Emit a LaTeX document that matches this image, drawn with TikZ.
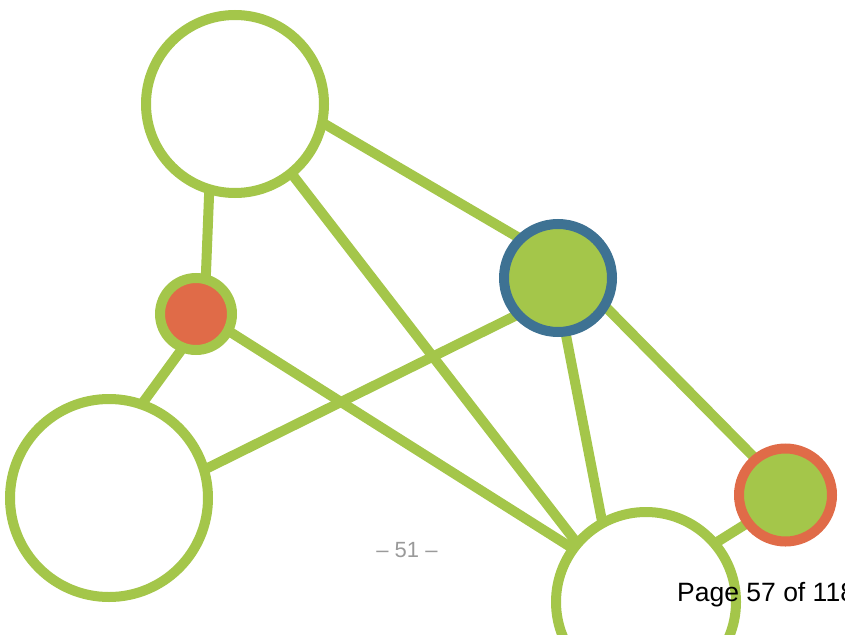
\documentclass[tikz,border=0pt]{standalone}
\usepackage{fontspec}
\setmainfont{Liberation Sans}
\usetikzlibrary{backgrounds}
\definecolor{lgreen}{HTML}{A4C64A}
\definecolor{dorange}{HTML}{E06B48}
\definecolor{sblue}{HTML}{3E7293}
\definecolor{pgray}{HTML}{9A9A9A}
\begin{document}
\begin{tikzpicture}[x=1pt,y=1pt,
  vnode/.style={circle, line width=10pt, inner sep=0pt},
  edge/.style={draw=lgreen, line width=10pt, shorten <=-6pt, shorten >=-6pt}]
\useasboundingbox (0,0) rectangle (845,-634);
% nodes
\node[vnode, draw=lgreen, fill=white, minimum size=178pt] (A) at (235,-104) {};
\node[vnode, draw=lgreen, fill=dorange, minimum size=72pt] (B) at (196,-314) {};
\node[vnode, draw=sblue, fill=lgreen, minimum size=108pt] (C) at (558,-278) {};
\node[vnode, draw=dorange, fill=lgreen, minimum size=93pt] (D) at (785.5,-495) {};
\node[vnode, draw=lgreen, fill=white, minimum size=198pt] (E) at (109,-498) {};
\node[vnode, draw=lgreen, fill=white, minimum size=180pt] (F) at (646,-602) {};
% edges
\begin{scope}[on background layer]
\draw[edge] (A.254) -- (B.76);
\draw[edge] (A.347) -- (C.135);
\draw[edge] (A.309) -- (F.139);
\draw[edge] (B.332) -- (F.144);
\draw[edge] (B.247) -- (E.70);
\draw[edge] (E.17) -- (C.221);
\draw[edge] (C.278) -- (F.118);
\draw[edge] (C.328) -- (D.130);
\draw[edge] (D.216) -- (F.40);
\end{scope}
% texts
\node[text=pgray, font=\fontsize{22}{26}\selectfont, anchor=base, inner sep=0pt] (pnum) at (407,-557) {– 51 –};
\node[anchor=base west, font=\fontsize{26.5}{31}\selectfont, inner sep=0pt] (pinfo) at (677,-601) {Page 57 of 118};
\end{tikzpicture}
\end{document}
